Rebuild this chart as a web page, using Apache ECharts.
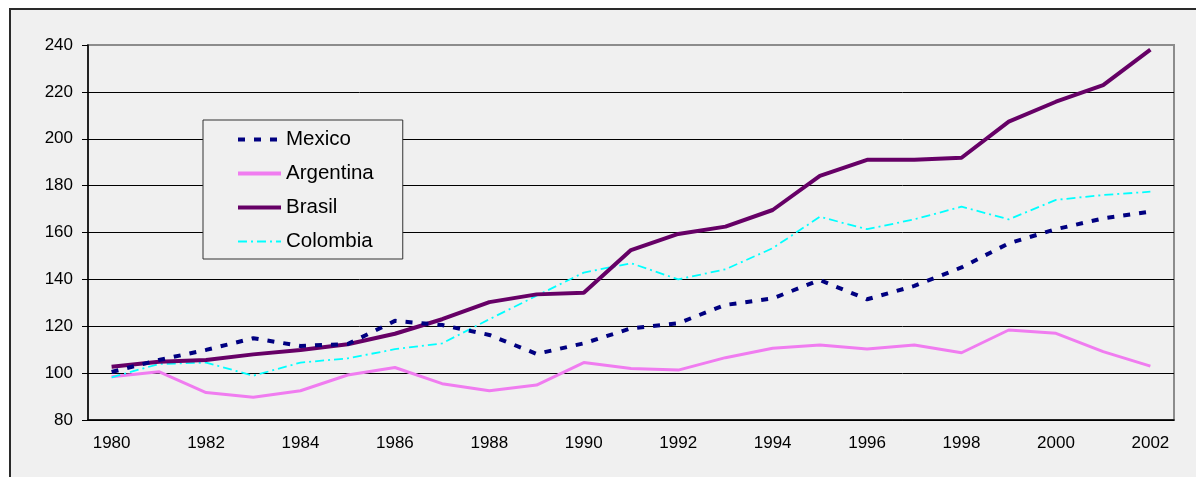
<!DOCTYPE html>
<html>
<head>
<meta charset="utf-8">
<script src="https://cdn.jsdelivr.net/npm/echarts@6/dist/echarts.min.js"></script>
<style>
  html, body { margin: 0; padding: 0; background: #fff; }
  #frame {
    position: absolute; left: 9px; top: 8px; width: 1200px; height: 480px;
    border-left: 2px solid #2a2a2a; border-top: 2px solid #2a2a2a;
    background: #f0f0f0;
  }
  #chart { position: absolute; left: 0; top: 0; width: 1196px; height: 477px; }
</style>
</head>
<body>
<div id="frame"></div>
<div id="chart"></div>
<script>
const years = ['1980', '1981', '1982', '1983', '1984', '1985', '1986', '1987', '1988', '1989', '1990', '1991',
  '1992', '1993', '1994', '1995', '1996', '1997', '1998', '1999', '2000', '2001', '2002']

const mexico = [100.5, 105.6, 109.9, 114.9, 111.6, 112.4, 122.3, 120.5, 116.3, 108.2, 112.7, 119.1,
  121.3, 129.1, 131.9, 139.7, 131.5, 137.2, 145.1, 155.4, 161.4, 166, 168.9]
const argentina = [98.5, 100.6, 91.7, 89.7, 92.5, 99.2, 102.4, 95.5, 92.5, 94.9, 104.5, 102,
  101.3, 106.6, 110.6, 112, 110.3, 112, 108.7, 118.4, 117, 109.2, 103]
const brasil = [102.7, 104.9, 105.6, 108, 109.9, 112.3, 116.8, 123, 130.3, 133.6, 134.3, 152.5,
  159.4, 162.5, 169.6, 184.2, 191, 191, 191.9, 207.3, 215.8, 222.9, 238]
const colombia = [98.2, 103.9, 104.5, 98.9, 104.5, 106.3, 110.2, 112.7, 123, 133, 142.9, 146.9,
  140, 144.3, 153.3, 166.7, 161.4, 165.6, 171, 165.6, 173.9, 176, 177.4]

const chart = echarts.init(document.getElementById('chart'))
const font = 'Liberation Sans, Arial, sans-serif'

chart.setOption({
  animation: false,
  textStyle: { fontFamily: font },
  grid: {
    left: 88,
    top: 45,
    right: 22,
    bottom: 57,
    show: true,
    borderColor: '#8c8c8c',
    borderWidth: 2
  },
  legend: {
    orient: 'vertical',
    left: 203,
    top: 120,
    width: 197,
    padding: [9, 29, 7, 33],
    itemWidth: 43,
    itemHeight: 14,
    itemGap: 13,
    backgroundColor: '#f0f0f0',
    borderColor: '#333',
    borderWidth: 1,
    itemStyle: { opacity: 0 },
    textStyle: { fontSize: 20.5, color: '#000', fontFamily: font, lineHeight: 20 },
    data: [
      { name: 'Mexico', lineStyle: { width: 4 } },
      { name: 'Argentina', lineStyle: { width: 4 } },
      { name: 'Brasil', lineStyle: { width: 4 } },
      { name: 'Colombia', lineStyle: { width: 2 } }
    ]
  },
  xAxis: {
    type: 'category',
    data: years,
    boundaryGap: true,
    axisLine: { lineStyle: { color: '#000', width: 1.5 } },
    axisTick: { interval: 0, length: 6, lineStyle: { color: '#000' } },
    axisLabel: { interval: 1, fontSize: 17, color: '#000', margin: 15 }
  },
  yAxis: {
    type: 'value',
    min: 80,
    max: 240,
    interval: 20,
    axisLine: { show: true, lineStyle: { color: '#000', width: 1.5 } },
    axisTick: { show: true, length: 6, lineStyle: { color: '#000' } },
    axisLabel: { fontSize: 17, color: '#000', margin: 15 },
    splitLine: { showMaxLine: false, lineStyle: { color: '#000', width: 1 } }
  },
  series: [
    {
      name: 'Mexico',
      type: 'line',
      data: mexico,
      symbol: 'none',
      z: 4,
      lineStyle: { color: '#000080', width: 4, type: [7, 9] },
      itemStyle: { color: '#000080' }
    },
    {
      name: 'Argentina',
      type: 'line',
      data: argentina,
      symbol: 'none',
      z: 2,
      lineStyle: { color: '#f07cf0', width: 3 },
      itemStyle: { color: '#f07cf0' }
    },
    {
      name: 'Brasil',
      type: 'line',
      data: brasil,
      symbol: 'none',
      z: 3,
      lineStyle: { color: '#660066', width: 4 },
      itemStyle: { color: '#660066' }
    },
    {
      name: 'Colombia',
      type: 'line',
      data: colombia,
      symbol: 'none',
      z: 2,
      lineStyle: { color: '#00ffff', width: 1.8, type: [9, 4, 2, 4] },
      itemStyle: { color: '#00ffff' }
    }
  ]
})
</script>
</body>
</html>
